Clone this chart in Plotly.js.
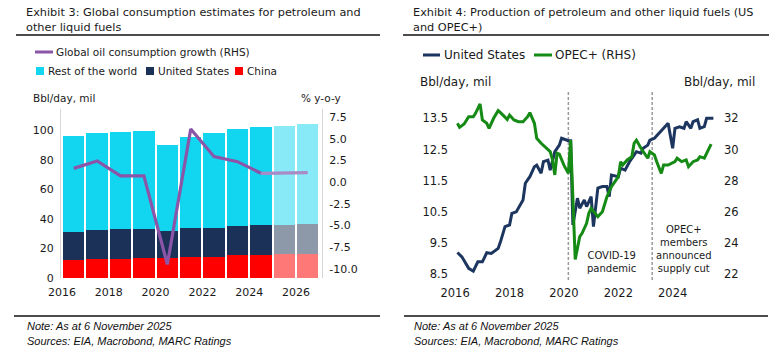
<!DOCTYPE html>
<html>
<head>
<meta charset="utf-8">
<script src="https://cdn.plot.ly/plotly-3.0.1.min.js"></script>
<style>html,body{margin:0;padding:0;background:#fff;}#chart{width:784px;height:356px;}</style>
</head>
<body>
<div id="chart"></div>
<script>
// ---------- Exhibit 3 data ----------
const years = [2016, 2017, 2018, 2019, 2020, 2021, 2022, 2023, 2024, 2025, 2026];
const forecastFlag = [0, 0, 0, 0, 0, 0, 0, 0, 0, 1, 1];
const chinaCons = [12.0, 12.7, 13.1, 13.6, 13.6, 14.2, 14.2, 15.4, 15.4, 16.0, 16.0];
const usCons = [19.2, 19.6, 19.9, 19.8, 18.0, 19.7, 19.9, 20.1, 20.3, 20.1, 20.4];
const rowCons = [64.9, 65.9, 65.9, 66.4, 58.2, 61.6, 64.3, 65.3, 66.3, 66.8, 67.7];
const growthYears = [2016, 2017, 2018, 2019, 2020, 2021, 2022, 2023, 2024];
const growthVals = [1.6, 2.45, 0.72, 0.72, -9.5, 6.15, 2.95, 2.37, 1.03];
const growthFcYears = [2024, 2025, 2026];
const growthFcVals = [1.03, 1.03, 1.1];
const leftTicks = [0, 20, 40, 60, 80, 100];
const rhsTicks = [-10, -7.5, -5, -2.5, 0, 2.5, 5, 7.5];
const rhsTickText = ['-10.0', '-7.5', '-5.0', '-2.5', '0.0', '2.5', '5.0', '7.5'];

// ---------- Exhibit 4 data ----------
const usDates = ['2016-02','2016-04','2016-07','2016-09','2016-11','2017-01','2017-03','2017-05','2017-08','2017-09','2017-11',
 '2018-01','2018-02','2018-04','2018-07','2018-08','2018-10','2018-12','2019-01','2019-03','2019-04','2019-06','2019-07','2019-09','2019-11','2019-12',
 '2020-03','2020-04','2020-05','2020-07','2020-08','2020-10','2020-11','2021-01','2021-02','2021-04','2021-06','2021-08','2021-09','2021-10',
 '2022-01','2022-02','2022-04','2022-06','2022-08','2022-09','2022-11','2022-12','2023-02','2023-03','2023-05','2023-07','2023-10','2023-11',
 '2024-01','2024-02','2024-04','2024-06','2024-07','2024-09','2024-10','2024-12','2025-01','2025-03','2025-04','2025-06','2025-07'];
const usProd = [9.2,9.06,8.69,8.6,8.9,8.9,9.19,9.17,9.33,9.54,10.03,
 10.08,10.45,10.5,10.88,11.42,11.63,11.95,12.0,11.74,12.11,12.16,11.84,12.43,12.64,12.86,
 12.78,12.78,10.08,10.94,10.62,10.88,10.67,10.99,10.03,11.26,11.31,11.31,10.99,11.68,
 11.63,11.9,11.84,12.11,12.32,12.43,12.38,12.54,12.64,12.8,12.86,13.02,13.23,13.34,
 12.54,13.18,13.23,13.18,13.39,13.18,13.39,13.45,13.18,13.23,13.5,13.5,13.5];
const opecDates = ['2016-02','2016-03','2016-05','2016-07','2016-09','2016-10','2016-12','2017-01','2017-03','2017-04','2017-06','2017-08','2017-09','2017-11','2017-12',
 '2018-01','2018-03','2018-05','2018-07','2018-09','2018-10','2018-12','2019-01','2019-03','2019-05','2019-07','2019-08','2019-09','2019-10','2019-11',
 '2020-01','2020-03','2020-04','2020-06','2020-08','2020-09','2020-11','2020-12','2021-01','2021-04','2021-06','2021-08','2021-10',
 '2022-01','2022-02','2022-03','2022-05','2022-07','2022-08','2022-09','2022-11','2022-12','2023-02','2023-03','2023-05','2023-06','2023-08','2023-09','2023-11',
 '2024-02','2024-03','2024-05','2024-07','2024-08','2024-10','2024-12','2025-01','2025-03','2025-04','2025-06'];
const opecProd = [31.68,31.42,31.63,32.1,32.1,32.32,32.92,31.89,31.68,31.36,32.0,32.49,32.36,32.1,31.93,
 32.21,31.89,31.78,31.78,32.1,32.36,31.68,30.72,30.4,30.14,29.86,29.33,28.37,29.76,29.7,
 29.0,28.47,30.6,22.95,24.41,24.63,25.27,25.91,26.23,25.69,26.01,26.97,27.62,
 28.26,29.22,29.0,29.33,29.54,30.4,30.6,30.08,29.86,29.44,29.86,29.65,29.22,28.47,29.0,29.0,
 29.22,29.44,29.22,29.33,28.9,29.22,29.33,29.54,29.44,29.76,30.35];
const eventDates = ['2020-03-01', '2023-04-01'];
const eventLabels = ['COVID-19<br>pandemic', 'OPEC+<br>members<br>announced<br>supply cut'];
const prodLeftTicks = [8.5, 9.5, 10.5, 11.5, 12.5, 13.5];
const prodRightTicks = [22, 24, 26, 28, 30, 32];

// ---------- helpers ----------
const W = 784, H = 356;
const px = x => x / W;
const py = y => 1 - y / H;
const FONT = 'DejaVu Sans';
const TXT = '#1a1a1a';
const midYear = y => y + '-07-02';
const YEAR_MS = 365.25 * 864e5;

const colRow = ['#12d5ef', '#88e9f7'];
const colUS = ['#1c3158', '#8d98a8'];
const colCN = ['#ff0000', '#ff7878'];
const pick = (pair) => forecastFlag.map(f => pair[f]);

const traces = [
  {type: 'bar', name: 'China', x: years.map(midYear), y: chinaCons, width: years.map(() => 0.915 * YEAR_MS),
   marker: {color: pick(colCN)}, xaxis: 'x', yaxis: 'y', hoverinfo: 'skip'},
  {type: 'bar', name: 'United States', x: years.map(midYear), y: usCons, width: years.map(() => 0.915 * YEAR_MS),
   marker: {color: pick(colUS)}, xaxis: 'x', yaxis: 'y', hoverinfo: 'skip'},
  {type: 'bar', name: 'Rest of the world', x: years.map(midYear), y: rowCons, width: years.map(() => 0.915 * YEAR_MS),
   marker: {color: pick(colRow)}, xaxis: 'x', yaxis: 'y', hoverinfo: 'skip'},
  {type: 'scatter', mode: 'lines', name: 'Global oil consumption growth (RHS)', x: growthYears.map(midYear), y: growthVals,
   line: {color: '#8b55a8', width: 3.2}, xaxis: 'x', yaxis: 'y2'},
  {type: 'scatter', mode: 'lines', name: 'Forecast growth', x: growthFcYears.map(midYear), y: growthFcVals,
   line: {color: '#a98ac6', width: 3.2}, xaxis: 'x', yaxis: 'y2'},
  {type: 'scatter', mode: 'lines', name: 'OPEC+ (RHS)', x: opecDates, y: opecProd,
   line: {color: '#158a14', width: 3}, xaxis: 'x2', yaxis: 'y4'},
  {type: 'scatter', mode: 'lines', name: 'United States', x: usDates, y: usProd,
   line: {color: '#1d365f', width: 3}, xaxis: 'x2', yaxis: 'y3'}
];

const tickFontL = {family: FONT, size: 11, color: TXT};
const tickFontR = {family: FONT, size: 11.5, color: TXT};

const annotations = [];
function ann(text, x, y, size, extra) {
  annotations.push(Object.assign({text: text, x: px(x), y: py(y), xref: 'paper', yref: 'paper', showarrow: false,
    xanchor: 'left', yanchor: 'middle', align: 'left', font: {family: FONT, size: size, color: TXT}}, extra || {}));
}
// titles
ann('Exhibit 3: Global consumption estimates for petroleum and<br>other liquid fuels', 24, 20, 11.3);
ann('Exhibit 4: Production of petroleum and other liquid fuels (US<br>and OPEC+)', 411, 20, 11.3);
// left legend
ann('Global oil consumption growth (RHS)', 54, 52, 10.5);
ann('Rest of the world', 46, 71, 10.5);
ann('United States', 156, 71, 10.5);
ann('China', 245, 71, 10.5);
// right legend
ann('United States', 442, 55, 12);
ann('OPEC+ (RHS)', 553, 55, 12);
// axis unit labels
ann('Bbl/day, mil', 31, 98, 10.5);
ann('% y-o-y', 299, 98, 10.5);
ann('Bbl/day, mil', 418, 82, 12);
ann('Bbl/day, mil', 682, 82, 12);
// event labels
ann(eventLabels[0], 611, 262, 10, {xanchor: 'center', align: 'center'});
ann(eventLabels[1], 684, 249, 10, {xanchor: 'center', align: 'center'});
// notes
const noteFont = {family: 'Liberation Sans', size: 11, color: '#111', style: 'italic'};
ann('Note: As at 6 November 2025', 25, 326, 11, {font: noteFont});
ann('Sources: EIA, Macrobond, MARC Ratings', 25, 341, 11, {font: noteFont});
ann('Note: As at 6 November 2025', 412, 326, 11, {font: noteFont});
ann('Sources: EIA, Macrobond, MARC Ratings', 412, 341, 11, {font: noteFont});

const shapes = [];
function hline(x0, x1, y, color, w) {
  shapes.push({type: 'line', xref: 'paper', yref: 'paper', x0: px(x0), x1: px(x1), y0: py(y), y1: py(y), line: {color: color, width: w}});
}
function rect(x0, x1, y0, y1, color) {
  shapes.push({type: 'rect', xref: 'paper', yref: 'paper', x0: px(x0), x1: px(x1), y0: py(y0), y1: py(y1), line: {width: 0}, fillcolor: color});
}
hline(16, 380, 35, '#111', 1.3);
hline(403, 769, 35, '#111', 1.3);
hline(14, 380, 316, '#111', 1.3);
hline(404, 768, 316, '#111', 1.3);
// legend keys
hline(35, 53, 52, '#8b55a8', 3);
rect(36, 44, 67, 75, colRow[0]);
rect(146, 154, 67, 75, colUS[0]);
rect(235, 243, 67, 75, colCN[0]);
hline(423, 440, 55, '#1d365f', 3);
hline(534, 552, 55, '#158a14', 3);
// event lines
eventDates.forEach(d => shapes.push({type: 'line', xref: 'x2', yref: 'y3 domain', x0: d, x1: d, y0: 0, y1: 1,
  line: {color: '#9a9a9a', width: 1.5, dash: '3px,2px'}, layer: 'below'}));

const layout = {
  width: W, height: H, margin: {l: 0, r: 0, t: 0, b: 0},
  paper_bgcolor: '#ffffff', plot_bgcolor: 'rgba(0,0,0,0)',
  showlegend: false, barmode: 'stack', bargap: 0,
  font: {family: FONT, color: TXT},
  xaxis: {domain: [px(61), px(322)], type: 'date', range: ['2015-12-16', '2027-02-10'],
    tick0: '2016-01-01', dtick: 'M24', tickformat: '%Y', showgrid: false, zeroline: false, ticks: '',
    tickfont: tickFontL, ticklabelstandoff: 6, anchor: 'y'},
  yaxis: {domain: [py(278), py(109)], range: [0, 114.5], tickvals: leftTicks, showgrid: false, zeroline: false,
    showline: true, linecolor: '#d6d6d6', linewidth: 1, ticks: '', tickfont: tickFontL, ticklabelstandoff: 4, anchor: 'x'},
  yaxis2: {overlaying: 'y', side: 'right', anchor: 'x', range: [-11.075, 8.46], tickvals: rhsTicks, ticktext: rhsTickText,
    showgrid: false, zeroline: false, showline: true, linecolor: '#d6d6d6', linewidth: 1, ticks: '', tickfont: tickFontL, ticklabelstandoff: 4},
  xaxis2: {domain: [px(452), px(718)], type: 'date', range: ['2015-11-20', '2025-09-01'],
    tick0: '2016-01-01', dtick: 'M24', tickformat: '%Y', showgrid: false, zeroline: false, ticks: '',
    tickfont: tickFontR, ticklabelstandoff: 4, anchor: 'y3'},
  yaxis3: {domain: [py(280), py(92)], range: [8.317, 14.343], tickvals: prodLeftTicks, tickformat: '.1f',
    showgrid: false, zeroline: false, ticks: '', tickfont: tickFontR, ticklabelstandoff: 3, anchor: 'x2'},
  yaxis4: {overlaying: 'y3', side: 'right', anchor: 'x2', range: [21.634, 33.686], tickvals: prodRightTicks,
    showgrid: false, zeroline: false, ticks: '', tickfont: tickFontR, ticklabelstandoff: 5},
  annotations: annotations,
  shapes: shapes
};

Plotly.newPlot('chart', traces, layout, {staticPlot: true, displayModeBar: false});
</script>
</body>
</html>
